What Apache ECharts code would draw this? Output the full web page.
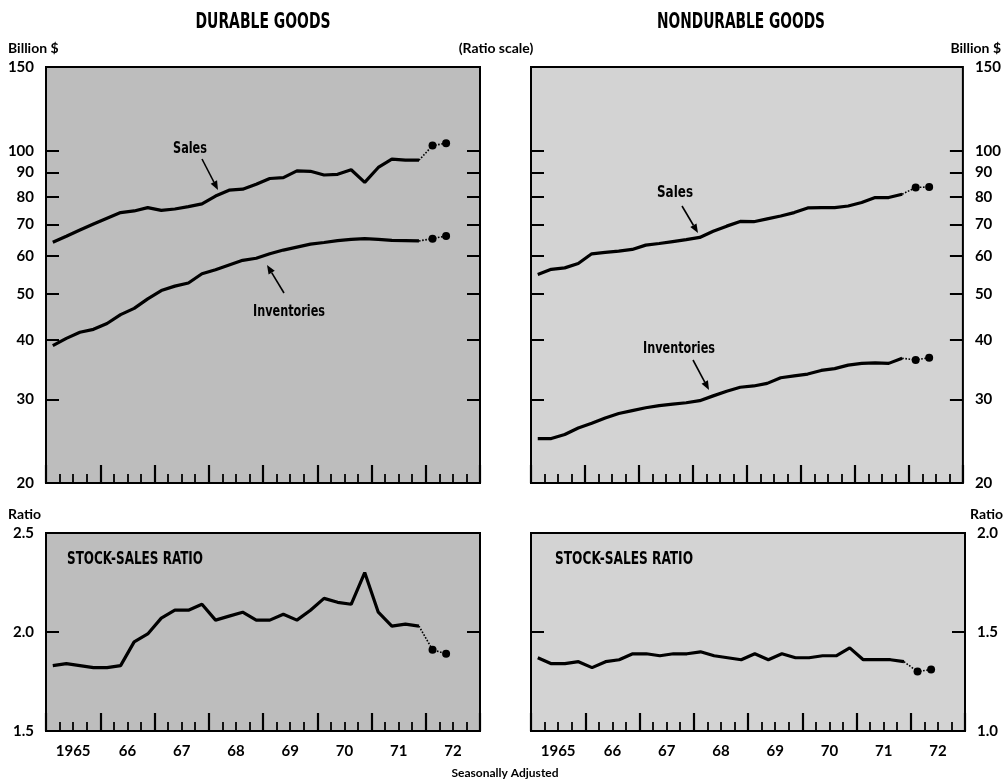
<!DOCTYPE html>
<html><head><meta charset="utf-8">
<script src="https://cdn.jsdelivr.net/npm/echarts@6/dist/echarts.min.js"></script>
<style>html,body{margin:0;padding:0;background:#fff}#c{width:1004px;height:780px}</style>
</head><body><div id="c"></div>
<script>
// ---- data ----
const quarters = ['1965 Q1','1965 Q2','1965 Q3','1965 Q4','1966 Q1','1966 Q2','1966 Q3','1966 Q4',
  '1967 Q1','1967 Q2','1967 Q3','1967 Q4','1968 Q1','1968 Q2','1968 Q3','1968 Q4',
  '1969 Q1','1969 Q2','1969 Q3','1969 Q4','1970 Q1','1970 Q2','1970 Q3','1970 Q4',
  '1971 Q1','1971 Q2','1971 Q3','1971 Q4','1972 Q1','1972 Q2'];
const nActual = 28; // quarters through 1971 Q4 reported; the last two are projections
const yearLabels = ['1965','66','67','68','69','70','71','72'];
const billionTicks = [20,30,40,50,60,70,80,90,100,150];
const durRatioTicks = [1.5,2.0,2.5];
const nonRatioTicks = [1.0,1.5,2.0];

const durSales = [64.2,66.1,68.1,70.1,72.1,74.1,74.7,75.9,74.9,75.4,76.3,77.3,80.3,82.6,83.0,85.0,87.4,87.8,90.7,90.5,88.9,89.2,91.2,85.8,92.2,96.0,95.5,95.5,102.5,103.7];
const durInv = [38.9,40.3,41.5,42.1,43.3,45.2,46.6,48.8,50.8,51.9,52.7,55.1,56.2,57.5,58.8,59.4,60.7,61.8,62.7,63.6,64.1,64.7,65.1,65.3,65.1,64.8,64.7,64.6,65.3,66.2];
const durRatio = [1.83,1.84,1.83,1.82,1.82,1.83,1.95,1.99,2.07,2.11,2.11,2.14,2.06,2.08,2.10,2.06,2.06,2.09,2.06,2.11,2.17,2.15,2.14,2.30,2.10,2.03,2.04,2.03,1.91,1.89];
const nonSales = [54.9,56.3,56.7,57.9,60.7,61.1,61.5,62.0,63.3,63.8,64.4,65.0,65.7,67.7,69.4,71.0,70.9,71.9,72.9,74.1,75.8,75.9,75.9,76.5,77.8,79.7,79.7,81.0,83.7,83.9];
const nonInv = [24.8,24.8,25.3,26.1,26.7,27.4,28.0,28.4,28.8,29.1,29.3,29.5,29.8,30.5,31.2,31.8,32.0,32.4,33.3,33.6,33.9,34.5,34.8,35.4,35.7,35.8,35.7,36.6,36.3,36.7];
const nonRatio = [1.37,1.34,1.34,1.35,1.32,1.35,1.36,1.39,1.39,1.38,1.39,1.39,1.40,1.38,1.37,1.36,1.39,1.36,1.39,1.37,1.37,1.38,1.38,1.42,1.36,1.36,1.36,1.35,1.30,1.31];

// ---- helpers ----
function qx(label){ const p = label.split(' Q'); return +p[0] + (+p[1] - 0.5) / 4; }
function actual(vals){ return vals.slice(0, nActual).map((v,i)=>[qx(quarters[i]), v]); }
function projected(vals){ return vals.slice(nActual-1).map((v,k)=>[qx(quarters[nActual-1+k]), v]); }

const chart = echarts.init(document.getElementById('c'), null, {renderer:'canvas'});
const LBL = {color:'#000', fontFamily:'Lato', fontWeight:'bold', fontSize:15};

const grids = [
  {left:46, top:67, width:434, height:416, bg:'#bdbdbd'},
  {left:531, top:67, width:434, height:416, bg:'#d3d3d3'},
  {left:46, top:533, width:434, height:198, bg:'#bdbdbd'},
  {left:531, top:533, width:434, height:198, bg:'#d3d3d3'}
];
const gridOpt = grids.map(g=>({left:g.left, top:g.top, width:g.width, height:g.height, show:true,
  backgroundColor:g.bg, borderColor:'#000', borderWidth:2, containLabel:false}));

const xAxes = [];
grids.forEach((g,i)=>{
  xAxes.push({type:'value', gridIndex:i, min:1965, max:1973, interval:0.25,
    axisLine:{show:false}, axisLabel:{show:false}, splitLine:{show:false},
    axisTick:{show:true, inside:true, length:9, lineStyle:{color:'#000', width:1.8}}});
  xAxes.push({type:'category', gridIndex:i, data:yearLabels, boundaryGap:true, position:'bottom',
    axisLine:{show:false}, splitLine:{show:false},
    axisTick:{show:true, inside:true, length:18, interval:0, lineStyle:{color:'#000', width:2.2}},
    axisLabel:Object.assign({show:i>=2, interval:0, margin:13}, LBL)});
});

function yPair(gi, type, min, max, ticks, labelSide){
  const base = {gridIndex:gi, type:type, min:min, max:max,
    axisLine:{show:false}, splitLine:{show:false}};
  if (type==='log') base.logBase = 10; else base.interval = 0.5;
  const mk = (pos)=>Object.assign({}, base, {position:pos,
    axisTick:{show:true, inside:true, length:13, customValues:ticks, lineStyle:{color:'#000', width:2}},
    axisLabel:Object.assign({show:pos===labelSide, customValues:ticks, margin:12,
      formatter:(v)=> type==='log' ? String(Math.round(v)) : Number(v).toFixed(1)}, LBL)});
  return [mk('left'), mk('right')];
}
const yAxes = [].concat(
  yPair(0,'log',20,150,billionTicks,'left'),
  yPair(1,'log',20,150,billionTicks,'right'),
  yPair(2,'value',1.5,2.5,durRatioTicks,'left'),
  yPair(3,'value',1.0,2.0,nonRatioTicks,'right')
);

const series = [];
function addSeries(gi, vals){
  series.push({type:'line', xAxisIndex:2*gi, yAxisIndex:2*gi, data:actual(vals), symbol:'none',
    lineStyle:{color:'#000', width:3.2}, z:5, animation:false});
  series.push({type:'line', xAxisIndex:2*gi, yAxisIndex:2*gi, data:projected(vals), symbol:'circle',
    showSymbol:true, symbolSize:(v,p)=> p.dataIndex===0 ? 0 : 8, itemStyle:{color:'#000'},
    lineStyle:{color:'#000', width:1.6, type:'dotted'}, z:5, animation:false});
}
addSeries(0, durSales); addSeries(0, durInv);
addSeries(1, nonSales); addSeries(1, nonInv);
addSeries(2, durRatio); addSeries(3, nonRatio);

// ---- annotation graphics ----
const mctx = document.createElement('canvas').getContext('2d');
function fitText(text, x, y, font, targetW){
  mctx.font = font;
  const w = mctx.measureText(text).width;
  return {type:'text', x:x, y:y, scaleX: targetW / w, z:100,
    style:{text:text, font:font, fill:'#000', align:'center', verticalAlign:'middle'}};
}
function plainText(text, x, y, font, align){
  return {type:'text', x:x, y:y, z:100, style:{text:text, font:font, fill:'#000', align:align||'center', verticalAlign:'middle'}};
}
function arrow(x1,y1,x2,y2){
  const a = Math.atan2(y2-y1, x2-x1), L = 9, W = 3.6;
  const bx = x2 - L*Math.cos(a), by = y2 - L*Math.sin(a);
  return [
    {type:'line', z:100, shape:{x1:x1, y1:y1, x2:bx, y2:by}, style:{stroke:'#000', lineWidth:1.6}},
    {type:'polygon', z:100, shape:{points:[[x2,y2],[bx+W*Math.sin(a), by-W*Math.cos(a)],[bx-W*Math.sin(a), by+W*Math.cos(a)]]}, style:{fill:'#000'}}
  ];
}
const TITLE = 'bold 21px "DejaVu Sans Condensed", "DejaVu Sans"';
const NOTE = 'bold 17px "DejaVu Sans Condensed", "DejaVu Sans"';
const SMALL = 'bold 14px Lato';
const graphics = [].concat(
  [fitText('DURABLE GOODS', 263, 23, TITLE, 135),
   fitText('NONDURABLE GOODS', 741, 23, TITLE, 168),
   plainText('Billion $', 8, 48, SMALL, 'left'),
   plainText('(Ratio scale)', 496, 48, SMALL, 'center'),
   plainText('Billion $', 1001, 48, SMALL, 'right'),
   plainText('Ratio', 8, 514, SMALL, 'left'),
   plainText('Ratio', 1003, 514, SMALL, 'right'),
   plainText('Seasonally Adjusted', 505, 773, 'bold 12px Lato', 'center'),
   fitText('STOCK-SALES RATIO', 135, 560, NOTE, 136),
   fitText('STOCK-SALES RATIO', 624, 560, NOTE, 138),
   fitText('Sales', 190, 149, 'bold 16px "DejaVu Sans Condensed", "DejaVu Sans"', 34),
   fitText('Inventories', 289, 312, 'bold 16px "DejaVu Sans Condensed", "DejaVu Sans"', 72),
   fitText('Sales', 675, 193, 'bold 16px "DejaVu Sans Condensed", "DejaVu Sans"', 36),
   fitText('Inventories', 679, 349, 'bold 16px "DejaVu Sans Condensed", "DejaVu Sans"', 72)],
  arrow(202,159,218,190),
  arrow(284,293,267,265),
  arrow(682,206,698,233),
  arrow(693,360,709,390)
);

chart.setOption({
  animation:false,
  backgroundColor:'#fff',
  grid:gridOpt, xAxis:xAxes, yAxis:yAxes, series:series, graphic:graphics
});
</script></body></html>
